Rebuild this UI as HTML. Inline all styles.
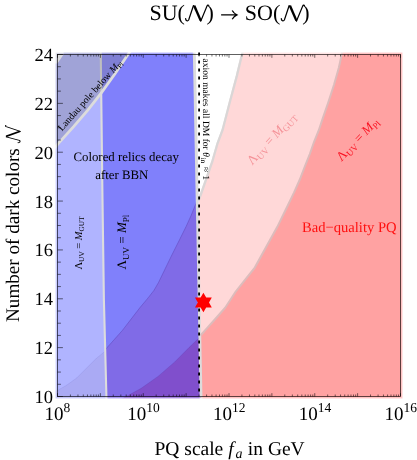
<!DOCTYPE html>
<html><head><meta charset="utf-8"><title>SU(N) to SO(N)</title><style>html,body{margin:0;padding:0;background:#fff;}svg{display:block;will-change:transform;}text{font-family:"Liberation Serif",serif;text-rendering:geometricPrecision;}</style></head><body>
<svg width="417" height="460" viewBox="0 0 417 460">
<rect x="0" y="0" width="417" height="460" fill="#ffffff"/>
<defs><clipPath id="fr"><rect x="56.8" y="53.8" width="344.4" height="343.4"/></clipPath><clipPath id="fr2"><rect x="55.5" y="52.5" width="347.0" height="346.0"/></clipPath>
<g id="fills">
<polygon fill="#b0b4ff" points="54.5,51.5 100.7,51.5 100.7,50.0 102.5,200.0 103.9,300.0 106.5,400.0 54.5,399.5"/>
<polygon fill="#8080fb" points="100.7,51.5 100.7,50.0 102.5,200.0 103.9,300.0 106.5,400.0 201.1,399.5 201.1,396.5 201.1,400.0 194.2,50.0 194.2,51.5"/>
<polygon fill="#ffd8d8" points="243.2,51.5 243.2,50.0 242.4,53.0 236.8,76.1 229.8,102.2 222.6,130.0 217.5,143.5 212.2,162.0 205.7,180.6 201.2,193.5 198.4,201.0 199.0,230.0 201.0,399.5 403.5,399.5 403.5,51.5"/>
<polygon fill="#ffa2a2" points="342.7,51.5 342.7,50.0 342.0,53.0 338.9,67.4 334.0,84.7 328.4,102.0 322.4,119.4 318.9,130.0 314.0,142.0 309.8,154.0 305.0,166.0 299.6,180.0 294.1,192.4 285.7,209.7 277.2,227.1 267.5,244.4 254.8,267.6 247.0,277.4 235.4,292.0 225.2,307.7 215.7,318.5 206.8,328.3 200.5,335.5 201.0,399.5 403.5,399.5 403.5,51.5"/>
<clipPath id="cl"><polygon points="54.5,51.5 100.7,51.5 100.7,50.0 102.5,200.0 103.9,300.0 106.5,400.0 54.5,399.5"/></clipPath><clipPath id="cm"><polygon points="100.7,51.5 100.7,50.0 102.5,200.0 103.9,300.0 106.5,400.0 201.1,399.5 201.1,396.5 201.1,400.0 194.2,50.0 194.2,51.5"/></clipPath>
<polygon clip-path="url(#cl)" fill="#7a5a90" fill-opacity="0.10" stroke="#6060c0" stroke-opacity="0.12" stroke-width="1" points="54.0,392.3 57.5,390.4 66.5,385.3 76.6,378.1 86.7,368.0 96.7,358.0 103.9,352.2 112.0,345.0 112.0,399.5 54.5,399.5"/>
<polygon clip-path="url(#cm)" fill="#800080" fill-opacity="0.16" stroke="#5030a0" stroke-opacity="0.35" stroke-width="1" points="100.0,357.0 104.0,351.5 107.6,347.0 115.4,338.3 122.4,330.4 131.1,319.1 139.8,307.8 148.5,297.4 154.0,290.3 158.5,282.5 163.7,271.8 171.5,255.7 179.4,240.0 186.2,226.3 191.1,215.5 195.0,205.8 197.5,199.5 201.1,399.5 100.0,399.5"/>
<polygon fill="#800080" fill-opacity="0.26" stroke="#5030a0" stroke-opacity="0.2" stroke-width="1" points="120.5,400.0 124.5,397.5 141.2,388.3 158.0,376.4 174.7,362.0 189.0,347.6 200.5,336.5 201.1,399.5"/>
<polyline fill="none" stroke="#dcdcdc" stroke-width="2.1" points="100.7,50.0 102.5,200.0 103.9,300.0 106.5,400.0"/>
<polygon fill="#7f7f7f" fill-opacity="0.31" points="54.5,51.5 131.0,51.5 131.0,50.2 128.6,53.5 126.3,57.0 115.0,73.8 101.5,92.6 88.0,109.8 73.6,126.6 58.0,143.8 54.0,148.6 54.5,148.6"/>
<polyline fill="none" stroke="#dcdcdc" stroke-width="2.8" points="194.2,50.0 201.1,400.0"/>
<polyline fill="none" stroke="#dcdcdc" stroke-width="2.8" points="54.0,148.6 58.0,143.8 73.6,126.6 88.0,109.8 101.5,92.6 115.0,73.8 126.3,57.0 128.6,53.5 131.0,50.2"/>
<polyline fill="none" stroke="#dad6d6" stroke-width="2.3" points="243.2,50.0 242.4,53.0 236.8,76.1 229.8,102.2 222.6,130.0 217.5,143.5 212.2,162.0 205.7,180.6 201.2,193.5 198.4,201.0"/>
<polyline fill="none" stroke="#dcbcbc" stroke-width="2" points="342.7,50.0 342.0,53.0 338.9,67.4 334.0,84.7 328.4,102.0 322.4,119.4 318.9,130.0 314.0,142.0 309.8,154.0 305.0,166.0 299.6,180.0 294.1,192.4 285.7,209.7 277.2,227.1 267.5,244.4 254.8,267.6 247.0,277.4 235.4,292.0 225.2,307.7 215.7,318.5 206.8,328.3 200.5,335.5"/>
<polygon fill="#dadade" points="54,51 63.6,51 63.6,54.5 57.5,63.4 54,63.4"/>
</g></defs>
<g clip-path="url(#fr2)" opacity="0.55"><use href="#fills"/></g>
<g clip-path="url(#fr)"><use href="#fills"/></g>
<line x1="199.1" y1="52.6" x2="199.1" y2="396.5" stroke="#000" stroke-width="1.8" stroke-dasharray="2.9 5.1"/>
<polygon fill="#ff0000" points="203.4,292.8 206.2,297.6 211.8,297.6 209.0,302.5 211.8,307.4 206.2,307.4 203.4,312.2 200.6,307.4 195.0,307.4 197.8,302.5 195.0,297.6 200.6,297.6"/>
<rect x="57.5" y="54.5" width="343.0" height="342.0" fill="none" stroke="#000" stroke-width="0.62"/>
<path d="M57.5,396.50h5.4M57.5,384.29h3.4M57.5,372.07h3.4M57.5,359.86h3.4M57.5,347.64h5.4M57.5,335.43h3.4M57.5,323.21h3.4M57.5,311.00h3.4M57.5,298.79h5.4M57.5,286.57h3.4M57.5,274.36h3.4M57.5,262.14h3.4M57.5,249.93h5.4M57.5,237.71h3.4M57.5,225.50h3.4M57.5,213.29h3.4M57.5,201.07h5.4M57.5,188.86h3.4M57.5,176.64h3.4M57.5,164.43h3.4M57.5,152.21h5.4M57.5,140.00h3.4M57.5,127.79h3.4M57.5,115.57h3.4M57.5,103.36h5.4M57.5,91.14h3.4M57.5,78.93h3.4M57.5,66.71h3.4M57.5,54.50h5.4M57.50,396.5v-3.3M57.50,54.5v3.3M70.41,396.5v-2.0M70.41,54.5v2.0M77.96,396.5v-2.0M77.96,54.5v2.0M83.31,396.5v-2.0M83.31,54.5v2.0M87.47,396.5v-2.0M87.47,54.5v2.0M90.86,396.5v-2.0M90.86,54.5v2.0M93.73,396.5v-2.0M93.73,54.5v2.0M96.22,396.5v-2.0M96.22,54.5v2.0M98.41,396.5v-2.0M98.41,54.5v2.0M100.38,396.5v-3.3M100.38,54.5v3.3M113.28,396.5v-2.0M113.28,54.5v2.0M120.83,396.5v-2.0M120.83,54.5v2.0M126.19,396.5v-2.0M126.19,54.5v2.0M130.34,396.5v-2.0M130.34,54.5v2.0M133.74,396.5v-2.0M133.74,54.5v2.0M136.61,396.5v-2.0M136.61,54.5v2.0M139.09,396.5v-2.0M139.09,54.5v2.0M141.29,396.5v-2.0M141.29,54.5v2.0M143.25,396.5v-3.3M143.25,54.5v3.3M156.16,396.5v-2.0M156.16,54.5v2.0M163.71,396.5v-2.0M163.71,54.5v2.0M169.06,396.5v-2.0M169.06,54.5v2.0M173.22,396.5v-2.0M173.22,54.5v2.0M176.61,396.5v-2.0M176.61,54.5v2.0M179.48,396.5v-2.0M179.48,54.5v2.0M181.97,396.5v-2.0M181.97,54.5v2.0M184.16,396.5v-2.0M184.16,54.5v2.0M186.12,396.5v-3.3M186.12,54.5v3.3M199.03,396.5v-2.0M199.03,54.5v2.0M206.58,396.5v-2.0M206.58,54.5v2.0M211.94,396.5v-2.0M211.94,54.5v2.0M216.09,396.5v-2.0M216.09,54.5v2.0M219.49,396.5v-2.0M219.49,54.5v2.0M222.36,396.5v-2.0M222.36,54.5v2.0M224.84,396.5v-2.0M224.84,54.5v2.0M227.04,396.5v-2.0M227.04,54.5v2.0M229.00,396.5v-3.3M229.00,54.5v3.3M241.91,396.5v-2.0M241.91,54.5v2.0M249.46,396.5v-2.0M249.46,54.5v2.0M254.81,396.5v-2.0M254.81,54.5v2.0M258.97,396.5v-2.0M258.97,54.5v2.0M262.36,396.5v-2.0M262.36,54.5v2.0M265.23,396.5v-2.0M265.23,54.5v2.0M267.72,396.5v-2.0M267.72,54.5v2.0M269.91,396.5v-2.0M269.91,54.5v2.0M271.88,396.5v-3.3M271.88,54.5v3.3M284.78,396.5v-2.0M284.78,54.5v2.0M292.33,396.5v-2.0M292.33,54.5v2.0M297.69,396.5v-2.0M297.69,54.5v2.0M301.84,396.5v-2.0M301.84,54.5v2.0M305.24,396.5v-2.0M305.24,54.5v2.0M308.11,396.5v-2.0M308.11,54.5v2.0M310.59,396.5v-2.0M310.59,54.5v2.0M312.79,396.5v-2.0M312.79,54.5v2.0M314.75,396.5v-3.3M314.75,54.5v3.3M327.66,396.5v-2.0M327.66,54.5v2.0M335.21,396.5v-2.0M335.21,54.5v2.0M340.56,396.5v-2.0M340.56,54.5v2.0M344.72,396.5v-2.0M344.72,54.5v2.0M348.11,396.5v-2.0M348.11,54.5v2.0M350.98,396.5v-2.0M350.98,54.5v2.0M353.47,396.5v-2.0M353.47,54.5v2.0M355.66,396.5v-2.0M355.66,54.5v2.0M357.62,396.5v-3.3M357.62,54.5v3.3M370.53,396.5v-2.0M370.53,54.5v2.0M378.08,396.5v-2.0M378.08,54.5v2.0M383.44,396.5v-2.0M383.44,54.5v2.0M387.59,396.5v-2.0M387.59,54.5v2.0M390.99,396.5v-2.0M390.99,54.5v2.0M393.86,396.5v-2.0M393.86,54.5v2.0M396.34,396.5v-2.0M396.34,54.5v2.0M398.54,396.5v-2.0M398.54,54.5v2.0M400.50,396.5v-3.3M400.50,54.5v3.3" stroke="#000" stroke-width="0.55" fill="none"/>
<text x="53" y="402.9" font-size="18.5" text-anchor="end">10</text>
<text x="53" y="354.0" font-size="18.5" text-anchor="end">12</text>
<text x="53" y="305.2" font-size="18.5" text-anchor="end">14</text>
<text x="53" y="256.3" font-size="18.5" text-anchor="end">16</text>
<text x="53" y="207.5" font-size="18.5" text-anchor="end">18</text>
<text x="53" y="158.6" font-size="18.5" text-anchor="end">20</text>
<text x="53" y="109.8" font-size="18.5" text-anchor="end">22</text>
<text x="53" y="60.9" font-size="18.5" text-anchor="end">24</text>
<text x="44.6" y="420.3" font-size="19">10<tspan font-size="13.5" dy="-8.0">8</tspan></text>
<text x="127.2" y="420.3" font-size="19">10<tspan font-size="13.5" dy="-8.0">10</tspan></text>
<text x="213.0" y="420.3" font-size="19">10<tspan font-size="13.5" dy="-8.0">12</tspan></text>
<text x="298.8" y="420.3" font-size="19">10<tspan font-size="13.5" dy="-8.0">14</tspan></text>
<text x="384.5" y="420.3" font-size="19">10<tspan font-size="13.5" dy="-8.0">16</tspan></text>
<text x="149.5" y="20" font-size="22">SU(</text>
<g transform="translate(186,20.2) scale(0.9867,0.9867) translate(0,-15)"><path d="M-0.4,13.4 C-0.3,15.7 1.7,16.3 2.7,14.8 L7.5,0.3" fill="none" stroke="#000" stroke-width="1.25" stroke-linecap="round"/><path d="M15.0,15.9 L21.4,0.3 C21.8,-0.5 22.7,-0.5 23.1,-0.1" fill="none" stroke="#000" stroke-width="1.2" stroke-linecap="round"/><path d="M7.0,0.3 L9.5,-0.1 L15.9,14.7 L15.0,16.4 L13.7,15.5 Z" fill="#000"/></g>
<text x="206.6" y="20" font-size="22">)</text>
<path d="M221.1,14.9H236.3M232.2,10.5Q233.8,13.4 236.9,14.9Q233.8,16.4 232.2,19.3" fill="none" stroke="#000" stroke-width="1.3"/>
<text x="244.8" y="20" font-size="22">SO(</text>
<g transform="translate(281.7,20.2) scale(0.9867,0.9867) translate(0,-15)"><path d="M-0.4,13.4 C-0.3,15.7 1.7,16.3 2.7,14.8 L7.5,0.3" fill="none" stroke="#000" stroke-width="1.25" stroke-linecap="round"/><path d="M15.0,15.9 L21.4,0.3 C21.8,-0.5 22.7,-0.5 23.1,-0.1" fill="none" stroke="#000" stroke-width="1.2" stroke-linecap="round"/><path d="M7.0,0.3 L9.5,-0.1 L15.9,14.7 L15.0,16.4 L13.7,15.5 Z" fill="#000"/></g>
<text x="302.3" y="20" font-size="22">)</text>
<text x="154.5" y="454.6" font-size="19.5">PQ scale <tspan font-style="italic">f</tspan><tspan font-style="italic" font-size="14" dy="3.5" dx="1.8">a</tspan><tspan dy="-3.5" dx="0.6"> in GeV</tspan></text>
<g transform="translate(19.3,322) rotate(-90)"><text x="0" y="0" font-size="19.15">Number of dark colors</text><g transform="translate(179.6,0.2) scale(0.7344,0.9067) translate(0,-15)"><path d="M-0.4,13.4 C-0.3,15.7 1.7,16.3 2.7,14.8 L7.5,0.3" fill="none" stroke="#000" stroke-width="1.25" stroke-linecap="round"/><path d="M15.0,15.9 L21.4,0.3 C21.8,-0.5 22.7,-0.5 23.1,-0.1" fill="none" stroke="#000" stroke-width="1.2" stroke-linecap="round"/><path d="M7.0,0.3 L9.5,-0.1 L15.9,14.7 L15.0,16.4 L13.7,15.5 Z" fill="#000"/></g></g>
<text x="73.4" y="161.1" font-size="12.85">Colored relics decay</text>
<text x="95.2" y="178.6" font-size="12.85">after BBN</text>
<text x="302" y="231.7" font-size="14.6" fill="#ff1010">Bad−quality PQ</text>
<g transform="translate(81.6,269.5) rotate(-90)"><text x="0" y="0" font-size="10.5" fill="#000">Λ<tspan font-size="7.3" dy="2.3">UV</tspan><tspan dy="-2.3"> = </tspan><tspan font-style="italic">M</tspan><tspan font-size="7.3" dy="2.3">GUT</tspan></text></g>
<g transform="translate(125.7,269.5) rotate(-90)"><text x="0" y="0" font-size="13" fill="#000">Λ<tspan font-size="9.1" dy="2.9">UV</tspan><tspan dy="-2.9"> = </tspan><tspan font-style="italic">M</tspan><tspan font-size="9.1" dy="2.9">Pl</tspan></text></g>
<g transform="translate(252.3,165.4) rotate(-47.5)"><text x="0" y="0" font-size="13" fill="#f59298">Λ<tspan font-size="9.1" dy="2.9">UV</tspan><tspan dy="-2.9"> = </tspan><tspan font-style="italic">M</tspan><tspan font-size="9.1" dy="2.9">GUT</tspan></text></g>
<g transform="translate(341.4,161.8) rotate(-46)"><text x="0" y="0" font-size="13" fill="#fa1020">Λ<tspan font-size="9.1" dy="2.9">UV</tspan><tspan dy="-2.9"> = </tspan><tspan font-style="italic">M</tspan><tspan font-size="9.1" dy="2.9">Pl</tspan></text></g>
<g transform="translate(62.0,131.6) rotate(-48.5)"><text x="0" y="0" font-size="9.8">Landau pole below <tspan font-style="italic">M</tspan><tspan font-size="6.8" dy="2">Pl</tspan></text></g>
<g transform="translate(203.1,58.6) rotate(90)"><text x="0" y="0" font-size="9.55">axion makes all DM for <tspan font-style="italic">θ</tspan><tspan font-size="7.4" dy="1.7" dx="0.6">in</tspan><tspan dy="-1.7" dx="1.2"> ≈</tspan><tspan dx="0.8"> 1</tspan></text></g>
</svg></body></html>
